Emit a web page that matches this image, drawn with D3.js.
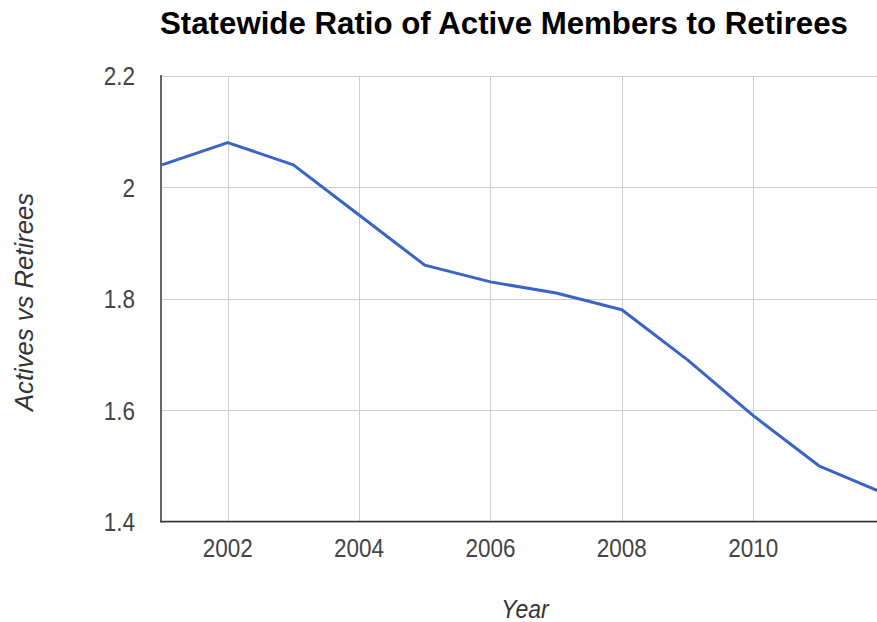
<!DOCTYPE html>
<html><head><meta charset="utf-8">
<script src="https://cdn.jsdelivr.net/npm/d3@7"></script>
<style>body{margin:0;background:#fff;overflow:hidden}</style>
</head><body><svg id="c" width="877" height="622"></svg>
<script>
const years = [2001,2002,2003,2004,2005,2006,2007,2008,2009,2010,2011,2012];
const ratios = [2.04,2.08,2.04,1.95,1.86,1.83,1.81,1.78,1.69,1.59,1.50,1.45];
const xTicks = [2002,2004,2006,2008,2010];
const yTicks = [1.4,1.6,1.8,2.0,2.2];
const title = "Statewide Ratio of Active Members to Retirees";
const xTitle = "Year", yTitle = "Actives vs Retirees";

const svg = d3.select("#c");
const x = d3.scaleLinear().domain([2001,2012]).range([162,884.6]);
const y = d3.scaleLinear().domain([1.4,2.2]).range([521.5,75.7]);
const font = "Arial, 'Liberation Sans', sans-serif";
const sy = 1.12;

// grid
const g = svg.append("g");
g.selectAll(".hg").data(yTicks).join("line")
  .attr("x1",161).attr("x2",877).attr("y1",d=>Math.round(y(d))+0.5).attr("y2",d=>Math.round(y(d))+0.5)
  .attr("stroke","#cccccc").attr("stroke-width",1);
g.selectAll(".vg").data(xTicks).join("line")
  .attr("x1",d=>Math.round(x(d))+0.5).attr("x2",d=>Math.round(x(d))+0.5).attr("y1",76).attr("y2",521)
  .attr("stroke","#cccccc").attr("stroke-width",1);

// line
const line = d3.line().x(d=>x(d[0])).y(d=>y(d[1]));
svg.append("path").datum(years.map((yr,i)=>[yr,ratios[i]]))
  .attr("d",line).attr("fill","none").attr("stroke","#3a63c6").attr("stroke-width",3)
  .attr("stroke-linejoin","round");

// axes
svg.append("line").attr("x1",161).attr("x2",161).attr("y1",75).attr("y2",522.5)
  .attr("stroke","#333").attr("stroke-width",1.5);
svg.append("line").attr("x1",160.5).attr("x2",877).attr("y1",521.5).attr("y2",521.5)
  .attr("stroke","#333").attr("stroke-width",1.5);

// tick labels
svg.selectAll(".xl").data(xTicks).join("text")
  .attr("transform",d=>`translate(${x(d)},557) scale(1,${sy})`).attr("text-anchor","middle")
  .attr("font-family",font).attr("font-size",22.5).attr("fill","#444")
  .text(d=>d);
svg.selectAll(".yl").data(yTicks).join("text")
  .attr("transform",d=>`translate(135,${y(d)+9.5}) scale(1,${sy})`).attr("text-anchor","end")
  .attr("font-family",font).attr("font-size",22.5).attr("fill","#444")
  .text(d=>d3.format("")(+d.toFixed(1)));

// titles
svg.append("text").attr("transform",`translate(160,34) scale(1,1.05)`).attr("font-family",font)
  .attr("font-size",30).attr("font-weight","bold").attr("fill","#000")
  .attr("textLength",688).attr("lengthAdjust","spacingAndGlyphs").text(title);
svg.append("text").attr("transform",`translate(525,618) scale(1,${sy})`).attr("text-anchor","middle")
  .attr("font-family",font).attr("font-size",23).attr("font-style","italic").attr("fill","#333").text(xTitle);
svg.append("text").attr("transform",`translate(33,302) rotate(-90) scale(1,${sy})`).attr("text-anchor","middle")
  .attr("font-family",font).attr("font-size",23).attr("font-style","italic").attr("fill","#333")
  .attr("textLength",218).attr("lengthAdjust","spacingAndGlyphs").text(yTitle);
</script></body></html>
